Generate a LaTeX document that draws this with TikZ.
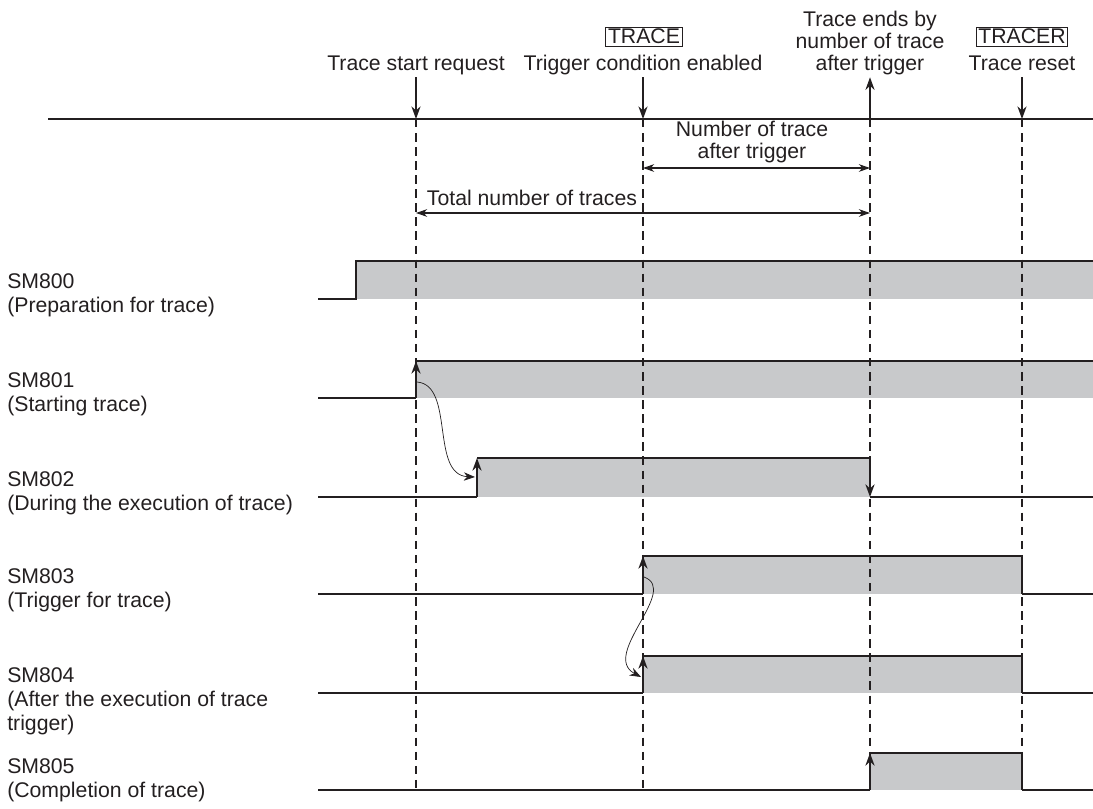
\documentclass[tikz,border=0pt]{standalone}
\usepackage{fontspec}
\setmainfont{Liberation Sans}
\usetikzlibrary{arrows.meta}
\definecolor{sigfill}{RGB}{200,201,203}
\definecolor{sigline}{RGB}{35,31,32}

\begin{document}
\begin{tikzpicture}[x=0.025cm,y=-0.025cm,line join=miter,
  every node/.style={font=\fontsize{15.1}{15.5}\selectfont,text=sigline},
  sig/.style={line width=1.9pt,draw=sigline},
  weak/.style={line width=0.9pt,draw=sigline},
  event/.style={line width=0.9pt,draw=sigline,dash pattern=on 6pt off 4pt},
  tip/.style={-{Stealth[length=9pt,width=6.5pt]}},
  dim/.style={line width=0.8pt,draw=sigline,{Stealth[length=8pt,width=5.5pt]}-{Stealth[length=8pt,width=5.5pt]}},
  cause/.style={line width=0.5pt,draw=sigline,-{Stealth[length=8pt,width=6pt]}},
  toplbl/.style={anchor=base,align=center,inner sep=2pt,text depth=0.3em},
  smlbl/.style={anchor=base west,align=left,inner sep=0pt,font=\fontsize{15.1}{17}\selectfont},
  cmd/.style={draw=sigline,line width=0.8pt,inner sep=1.5pt,anchor=base}]
\useasboundingbox (0,0) rectangle (1093,809);

% event instants on the time line
\coordinate (evStart) at (416,119);
\coordinate (evTrig) at (643,119);
\coordinate (evEnd) at (870,119);
\coordinate (evReset) at (1022,119);

% gray "on" areas
\fill[sigfill] (356,261) rectangle (1093,299);
\fill[sigfill] (416,361) rectangle (1093,398);
\fill[sigfill] (477,458) rectangle (870,497);
\fill[sigfill] (643,556) rectangle (1022,594);
\fill[sigfill] (643,656) rectangle (1022,693);
\fill[sigfill] (870,753) rectangle (1022,790);

% time line and dashed event lines
\draw[line width=1.6pt,draw=sigline] (48,119) -- (1093,119);
\foreach \ev in {evStart,evTrig,evEnd,evReset}
  \draw[event] (\ev) -- (\ev |- 0,792);

% top labels
\node[toplbl] (lblStart) at (416,70) {Trace start request};
\node[toplbl] (lblTrig) at (643,70) {Trigger condition enabled};
\node[cmd] (cmdTrace) at (644,44) {TRACE};
\node[toplbl] (lblEnd) at (870,70) {Trace ends by\\number of trace\\after trigger};
\node[cmd] (cmdTracer) at (1022,44) {TRACER};
\node[toplbl] (lblReset) at (1022,70) {Trace reset};

\draw[line width=0.9pt,draw=sigline,tip] (lblStart.south) -- (evStart);
\draw[line width=0.9pt,draw=sigline,tip] (lblTrig.south) -- (evTrig);
\draw[line width=0.9pt,draw=sigline,tip] (evEnd) -- (lblEnd.south);
\draw[line width=0.9pt,draw=sigline,tip] (lblReset.south) -- (evReset);

% counts
\node[anchor=base,align=center,inner sep=0pt] (lblAfter) at (752,158) {Number of trace\\after trigger};
\draw[dim] (evTrig |- 0,168) -- (evEnd |- 0,168);
\node[anchor=base,inner sep=0pt] (lblTotal) at (532,205) {Total number of traces};
\draw[dim] (evStart |- 0,213) -- (evEnd |- 0,213);

% signal names
\node[smlbl] (nm800) at (7,312) {SM800\\(Preparation for trace)};
\node[smlbl] (nm801) at (7,411) {SM801\\(Starting trace)};
\node[smlbl] (nm802) at (7,510) {SM802\\(During the execution of trace)};
\node[smlbl] (nm803) at (7,607) {SM803\\(Trigger for trace)};
\node[smlbl] (nm804) at (7,730) {SM804\\(After the execution of trace\\trigger)};
\node[smlbl] (nm805) at (7,797) {SM805\\(Completion of trace)};

% SM800
\draw[sig] (318,299) -- (356,299) -- (356,261) -- (1093,261);
% SM801
\draw[sig] (318,398) -- (416,398);
\draw[sig,tip] (416,398) -- (416,361);
\draw[sig] (416,361) -- (1093,361);
% SM802
\draw[sig] (318,497) -- (477,497);
\draw[sig,tip] (477,497) -- (477,458);
\draw[sig] (477,458) -- (870,458);
\draw[sig,tip] (870,458) -- (870,497);
\draw[sig] (870,497) -- (1093,497);
% SM803
\draw[weak] (318,594) -- (643,594);
\draw[sig,tip] (643,594) -- (643,556);
\draw[sig] (643,556) -- (1022,556) -- (1022,594);
\draw[weak] (1022,594) -- (1093,594);
% SM804
\draw[sig] (318,693) -- (643,693);
\draw[sig,tip] (643,693) -- (643,656);
\draw[sig] (643,656) -- (1022,656) -- (1022,693);
\draw[weak] (1022,693) -- (1093,693);
% SM805
\draw[sig] (318,790) -- (870,790);
\draw[sig,tip] (870,790) -- (870,753);
\draw[sig] (870,753) -- (1022,753) -- (1022,790);
\draw[weak] (1022,790) -- (1093,790);

% cause and effect
\coordinate (from801) at (417,382);
\coordinate (to802) at (475,477);
\coordinate (from803) at (644,577);
\coordinate (to804) at (641,677);
\draw[cause] (from801) .. controls (455,385) and (430,475) .. (to802);
\draw[cause] (from803) .. controls (680,590) and (600,655) .. (to804);
\end{tikzpicture}
\end{document}
